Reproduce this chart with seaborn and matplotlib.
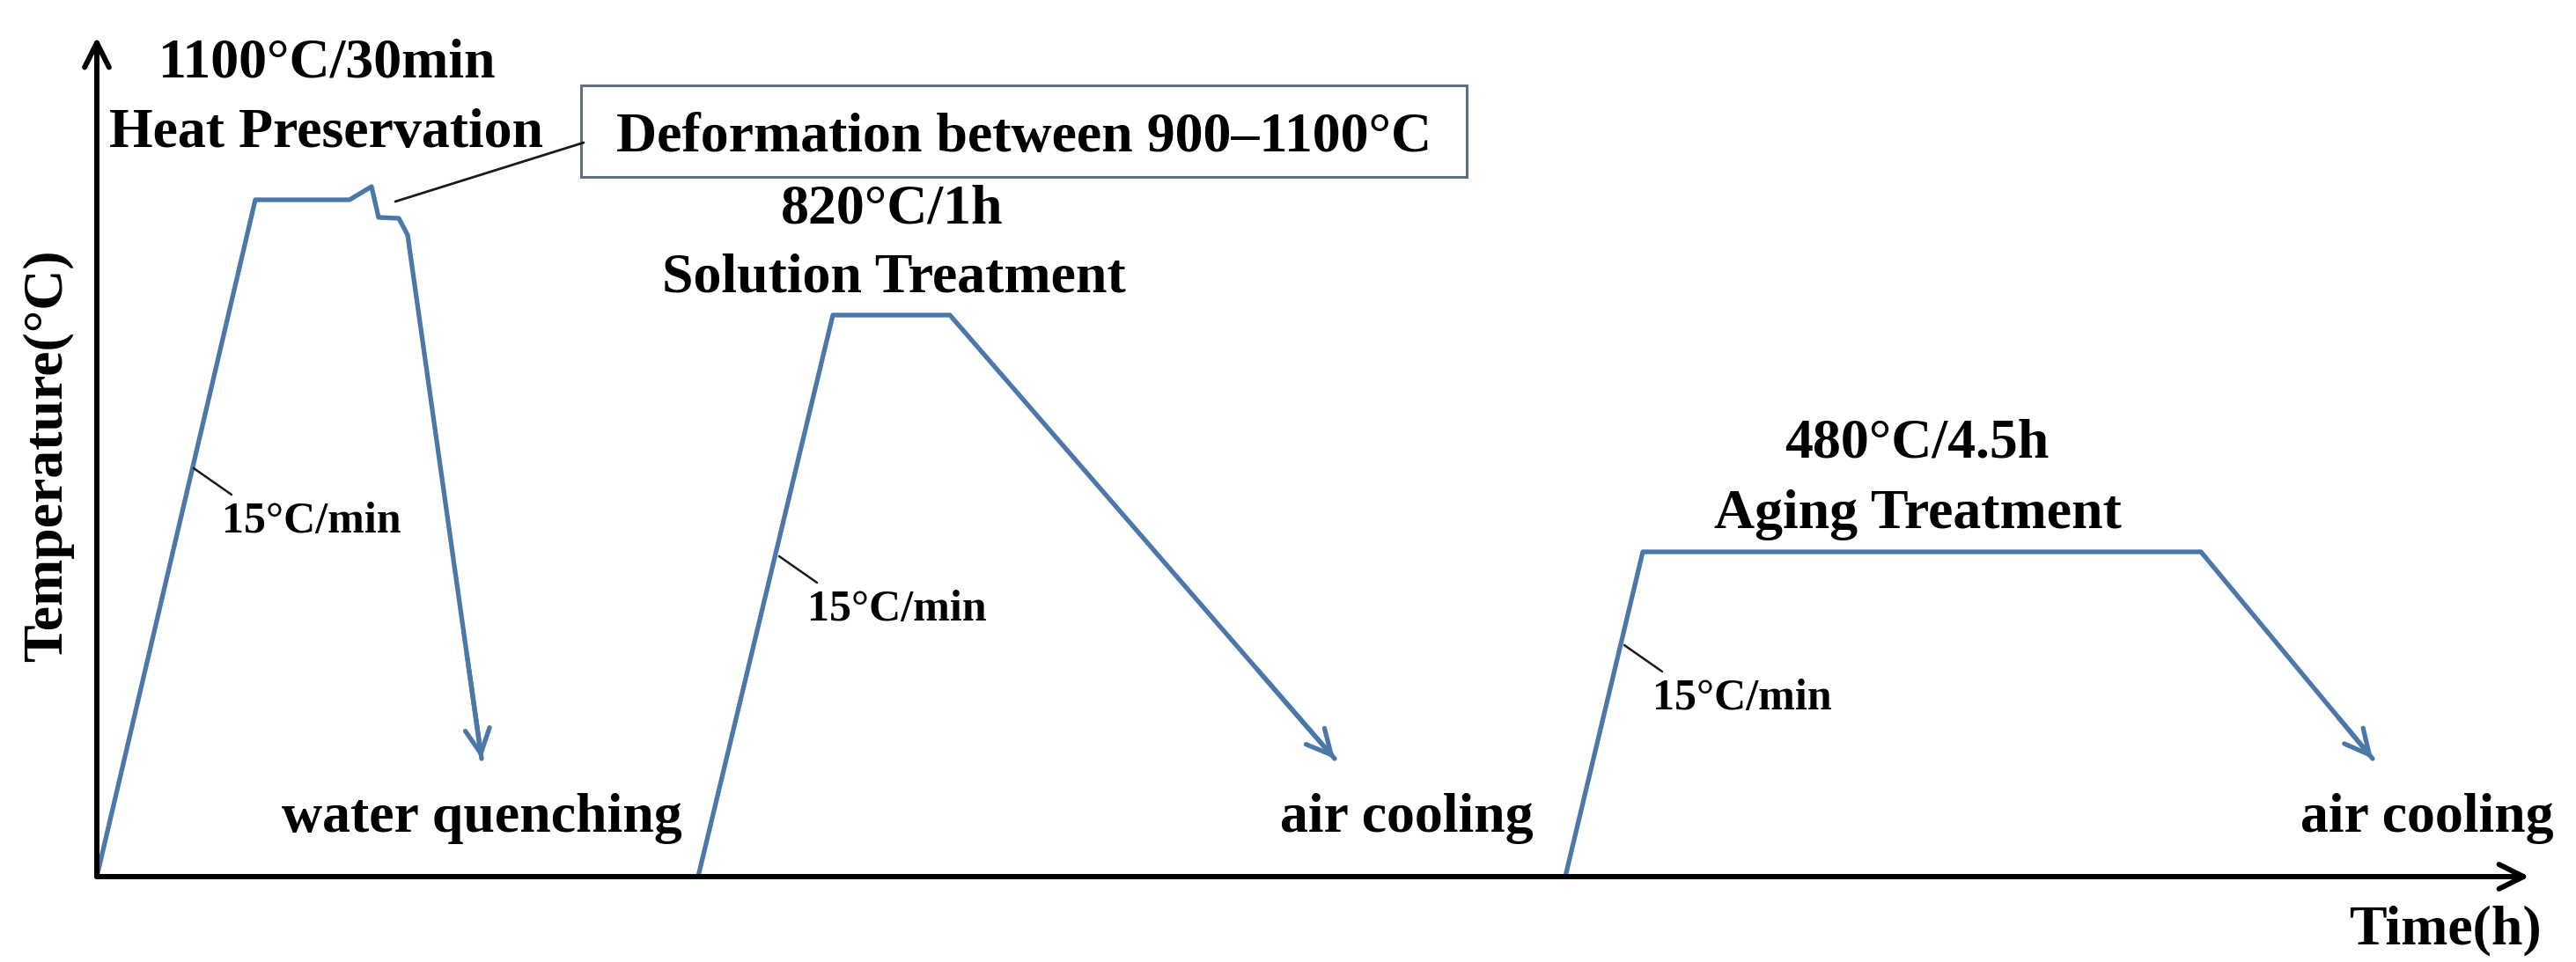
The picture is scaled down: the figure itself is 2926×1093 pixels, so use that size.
import matplotlib.pyplot as plt
import seaborn as sns
import pandas as pd
from matplotlib.patches import Rectangle

# Schematic heat-treatment route (arbitrary time / temperature units)
quench_time = [0, 180, 287, 312, 320, 343, 353, 437]
quench_temp = [0, 769, 769, 784, 749, 748, 729, 134]
solution_time = [683, 836, 969, 1406]
solution_temp = [0, 638, 638, 134]
aging_time = [1668, 1756, 2390, 2585]
aging_temp = [0, 369, 369, 134]

stage_labels = ["1100°C/30min", "Heat Preservation", "820°C/1h", "Solution Treatment",
                "480°C/4.5h", "Aging Treatment"]
stage_label_x = [262, 261, 903, 905, 2067, 2068]
stage_label_y = [908, 829, 743, 664, 476, 396]

cooling_labels = ["water quenching", "air cooling", "air cooling"]
cooling_label_x = [437, 1488, 2647]

rate_label = "15°C/min"
rate_time = [110, 775, 1735]      # where the leader touches the heating ramp
rate_temp = [464, 364, 263]

deform_label = "Deformation between 900–1100°C"
deform_point = (339, 767)

line_color = "#4B77A9"

sns.set_theme(style="white")
plt.rcParams['font.family'] = ['Liberation Serif', 'DejaVu Serif']
plt.rcParams['font.weight'] = 'bold'
plt.rcParams['text.color'] = 'black'

fig = plt.figure(figsize=(29.26, 10.93), dpi=100)
ax = fig.add_axes([110 / 2926, 1 - 996 / 1093, (2873 - 110) / 2926, (996 - 42) / 1093])
ax.set_xlim(0, 2763)
ax.set_ylim(0, 954)
ax.axis('off')

# process curves with arrowheads at the cooling ends
for t, T in [(quench_time, quench_temp), (solution_time, solution_temp), (aging_time, aging_temp)]:
    df = pd.DataFrame({"time": t, "temp": T})
    sns.lineplot(data=df, x="time", y="temp", sort=False, estimator=None, ax=ax,
                 color=line_color, lw=3.8, solid_joinstyle='round')
    x0, y0 = t[-2], T[-2]
    x1, y1 = t[-1], T[-1]
    ax.annotate('', xy=(x1, y1), xytext=(x0 + 0.8 * (x1 - x0), y0 + 0.8 * (y1 - y0)),
                arrowprops=dict(arrowstyle='->', color=line_color, lw=3.8,
                                mutation_scale=50, shrinkA=0, shrinkB=0))

# axes drawn as arrows
for tip in [(0, 1), (1, 0)]:
    ax.annotate('', xy=tip, xytext=(0, 0), xycoords='axes fraction', textcoords='axes fraction',
                arrowprops=dict(arrowstyle='->', color='black', lw=4.3,
                                mutation_scale=50, shrinkA=0, shrinkB=0))

ax.text(-55, 478, "Temperature(°C)", rotation=90, ha='center', va='center',
        fontsize=46, fontweight='bold', color='black')
ax.text(2667, -76, "Time(h)", ha='center', va='baseline', fontsize=46, fontweight='bold',
        color='black', clip_on=False)

for lab, x, y in zip(stage_labels, stage_label_x, stage_label_y):
    ax.text(x, y, lab, ha='center', va='baseline', fontsize=46, fontweight='bold', color='black')

for lab, x in zip(cooling_labels, cooling_label_x):
    ax.text(x, 51, lab, ha='center', va='baseline', fontsize=46, fontweight='bold',
            color='black', clip_on=False)

# heating rate leaders
for x, y in zip(rate_time, rate_temp):
    ax.plot([x, x + 43], [y, y - 30], color='#1a1a1a', lw=1.8)
    ax.text(x + 32, y - 73, rate_label, ha='left', va='baseline', fontsize=36,
            fontweight='bold', color='black')

# deformation callout box
ax.add_patch(Rectangle((550, 795), 1006, 104, fill=False, edgecolor='#5f6f80', lw=2.2))
ax.text(1053, 824, deform_label, ha='center', va='baseline', fontsize=46, fontweight='bold',
        color='black')
ax.plot([deform_point[0], 553], [deform_point[1], 834], color='#1a1a1a', lw=2)

fig.savefig("out.png", dpi=100, facecolor='white')
